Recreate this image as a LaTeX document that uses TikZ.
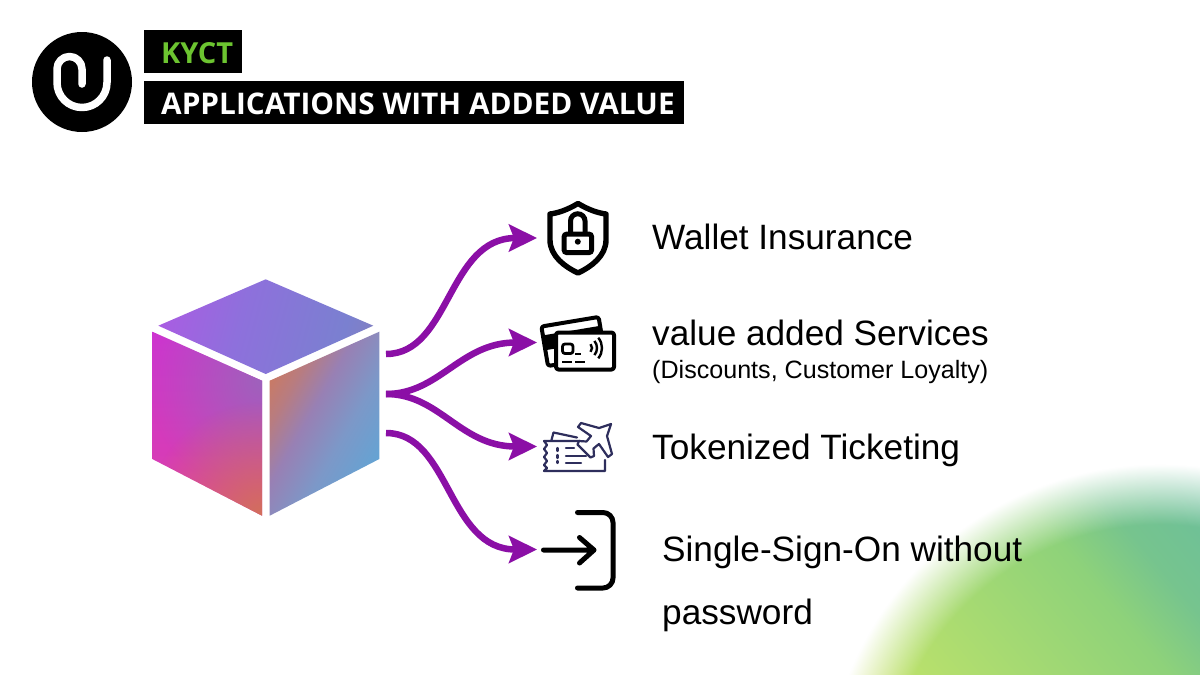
\documentclass[tikz,border=0pt]{standalone}
\usepackage{fontspec}
\setmainfont{Liberation Sans}
\newfontfamily\titlefont{Open Sans}
\usetikzlibrary{arrows.meta,fadings,shadings}
\definecolor{arrowpurple}{HTML}{8B0FA6}
\definecolor{ticketnavy}{HTML}{2E2E5C}
\definecolor{kyctgreen}{HTML}{6CC430}
\definecolor{lpurple}{HTML}{9E62BC}
\definecolor{lorange}{HTML}{D2705A}
\definecolor{r0}{HTML}{A078B8}\definecolor{r1}{HTML}{A878A8}\definecolor{r2}{HTML}{C87A66}
\definecolor{r3}{HTML}{B87C80}\definecolor{r4}{HTML}{9880B4}\definecolor{r5}{HTML}{7C98C8}
\definecolor{r6}{HTML}{5AA8D8}\definecolor{r7}{HTML}{50A8E0}
\pgfdeclarehorizontalshading{cuberightshade}{100bp}{
  color(0bp)=(r0);color(14.3bp)=(r0);color(21bp)=(r1);color(35.4bp)=(r2);color(39.3bp)=(r3);
  color(44.6bp)=(r4);color(51.8bp)=(r5);color(62.5bp)=(r6);color(100bp)=(r7)}
\definecolor{t0}{HTML}{C848E6}\definecolor{ta}{HTML}{B058E4}\definecolor{t1}{HTML}{8E70DC}\definecolor{t2}{HTML}{7A80D0}
\definecolor{t3}{HTML}{8F7FA8}\definecolor{t4}{HTML}{9A7A90}
\pgfdeclarehorizontalshading{cubetopshade}{100bp}{
  color(0bp)=(t0);color(10bp)=(t0);color(26.5bp)=(ta);color(45bp)=(t1);color(65bp)=(t2);
  color(81bp)=(t3);color(90bp)=(t4);color(100bp)=(t4)}
\definecolor{l0}{HTML}{C62EE2}\definecolor{l1}{HTML}{E2459A}
\pgfdeclareverticalshading{cubeleftshade}{100bp}{
  color(0bp)=(l1);color(100bp)=(l0)}
\definecolor{b0}{HTML}{E8E860}\definecolor{b1}{HTML}{D8E064}\definecolor{b2}{HTML}{B8E06C}
\definecolor{b3}{HTML}{8ED27A}\definecolor{b4}{HTML}{76C48E}\definecolor{b5}{HTML}{68BDA0}\definecolor{b6}{HTML}{60B8A8}
\pgfdeclarehorizontalshading{blobshade}{100bp}{
  color(0bp)=(b0);color(9.5bp)=(b0);color(21bp)=(b1);color(33bp)=(b2);color(55bp)=(b3);
  color(62bp)=(b4);color(76bp)=(b5);color(100bp)=(b6)}
\pgfdeclareradialshading{softdotshade}{\pgfpointorigin}{
  color(0bp)=(pgftransparent!0);color(50bp)=(pgftransparent!100)}
\pgfdeclarefading{softdot}{\pgfuseshading{softdotshade}}
\pgfdeclareradialshading{blobmask}{\pgfpointorigin}{
  color(0bp)=(pgftransparent!0);color(36.6bp)=(pgftransparent!0);
  color(44.6bp)=(pgftransparent!100);color(50bp)=(pgftransparent!100)}
\pgfdeclarefading{blobfade}{\pgfuseshading{blobmask}}
\tikzset{
  bodytext/.style={anchor=base west,inner sep=0pt,font=\fontsize{35.2}{38}\selectfont,text=black},
  smalltext/.style={anchor=base west,inner sep=0pt,font=\fontsize{25.1}{28}\selectfont,text=black},
  titlebox/.style={fill=black,inner sep=0pt,anchor=north west,minimum height=42.5pt},
  titletext/.style={anchor=base west,inner sep=0pt,font=\titlefont\bfseries\fontsize{29.8}{32}\selectfont},
  flow/.style={draw=arrowpurple,line width=6.5pt,-{Stealth[length=28pt,width=27pt,inset=5pt]}},
  iconline/.style={draw=black,line width=5pt,line cap=round,line join=round},
  cardline/.style={draw=black,line width=4pt,line join=round,rounded corners=2.5pt,fill=white},
  ticketline/.style={draw=ticketnavy,line width=2.2pt,line cap=round,line join=round},
}
\begin{document}
\begin{tikzpicture}[x=1pt,y=-1pt]
\useasboundingbox (0,0) rectangle (1200,675);
\fill[white] (0,0) rectangle (1200,675);
% corner glow
\begin{scope}
\clip (0,0) rectangle (1200,675);
\shade[shading=blobshade,shading angle=40,path fading=blobfade,fit fading=false,
  fading transform={shift={(1160,800)},scale=7.5}] (1050,600) circle (220);
\end{scope}
% logo
\node[circle,fill=black,minimum size=100pt,inner sep=0pt] (logo) at (82,82) {};
\draw[white,line width=7.5pt,line cap=round,line join=round]
  (107,60) -- (107,82.5) arc[start angle=0,end angle=180,radius=25] -- (57,69)
  arc[start angle=180,end angle=360,radius=12.5] -- (82,84);
% title
\node[titlebox,minimum width=98pt] (kyctbox) at (144,30) {};
\node[titletext,font=\titlefont\bfseries\fontsize{29}{32}\selectfont,text=kyctgreen] (kyct) at (161,63) {KYCT};
\node[titlebox,minimum width=540pt] (titlebg) at (144,81) {};
\node[titletext,text=white] (title) at (161,114) {APPLICATIONS WITH ADDED VALUE};
% cube
\begin{scope}
\clip (265.7,279.3) -- (373.3,325.7) -- (265.7,374) -- (158.3,325.7) -- cycle;
\shade[shading=cubetopshade,shading angle=-15] (265,327) circle (130);
\end{scope}
\begin{scope}
\clip (152.3,331.7) -- (262,380.7) -- (262,515.7) -- (152.3,459) -- cycle;
\shade[shading=cubeleftshade] (120,331) rectangle (280,516);
\fill[lpurple,path fading=softdot,fit fading=false,fading transform={shift={(262,381)},scale=2.3}] (120,300) rectangle (300,530);
\fill[lorange,path fading=softdot,fit fading=false,fading transform={shift={(262,516)},scale=2.3}] (120,300) rectangle (300,530);
\end{scope}
\begin{scope}
\clip (269.7,380.7) -- (379.3,331.7) -- (379.3,459) -- (269.7,515.7) -- cycle;
\shade[shading=cuberightshade,shading angle=-30] (325,448) circle (140);
\end{scope}
% connector ends
\coordinate (s1) at (386,354);
\coordinate (s2) at (386,394);
\coordinate (s4) at (386,433);
\coordinate (e1) at (537,238);
\coordinate (e2) at (537,342.5);
\coordinate (e3) at (537,446.5);
\coordinate (e4) at (537,549.5);
\draw[flow] (s1) to[out=0,in=180,out looseness=0.86,in looseness=1.2] (e1);
\draw[flow] (s2) to[out=0,in=180,out looseness=0.86,in looseness=1.23] (e2);
\draw[flow] (s2) to[out=0,in=180,out looseness=0.86,in looseness=1.23] (e3);
\draw[flow] (s4) to[out=0,in=180,out looseness=0.86,in looseness=1.2] (e4);
% shield icon
\draw[iconline,line width=5.4pt] (578,203.5) .. controls (567,210) and (558,213) .. (550,214)
  -- (550,240) .. controls (550,256) and (565,267) .. (578,273)
  .. controls (591,267) and (606,256) .. (606,240) -- (606,214)
  .. controls (598,213) and (589,210) .. (578,203.5) -- cycle;
\draw[black,line width=5pt,rounded corners=3pt] (564,234) rectangle (591.7,252.7);
\draw[black,line width=5pt] (570.5,233) -- (570.5,221) arc[start angle=180,end angle=360,radius=7.25] -- (585,233);
\fill[black] (577.8,241.7) circle (3);
% cards icon
\begin{scope}[rotate around={9.5:(570,340)}]
\draw[cardline] (544,322) rectangle (602,362);
\fill[black] (544,331) rectangle (602,346);
\end{scope}
\draw[cardline] (556,332.5) rectangle (614,369.5);
\draw[black,line width=2.8pt,rounded corners=2.5pt] (562.5,344) rectangle (573,353.5);
\draw[black,line width=1.8pt] (575,354) -- (581,354);
\draw[black,line width=2.2pt] (562,362) -- (572,362) (575,362) -- (585,362);
\foreach \rr in {6,11,16}{
  \draw[black,line width=2.4pt] (586,348) ++(-40:\rr) arc[start angle=-40,end angle=40,radius=\rr];
}
% ticket icon
\draw[ticketline] (551.5,440) -- (553.5,432.5) -- (577,437.5);
\draw[ticketline] (580,441) -- (544,441) -- (547,445) -- (544,449) -- (547,453) -- (544,457) -- (547,461) -- (544,465) -- (547,468) -- (544,471) -- (605,471) -- (605,460);
\draw[ticketline] (557.5,448) -- (557.5,451) (557.5,455) -- (557.5,458) (557.5,461) -- (557.5,463);
\draw[ticketline] (566,448) -- (574,448) (566,456) -- (586,456) (566,463) -- (581,463);
\draw[ticketline,fill=white] (611,424) -- (599,428) -- (581,423) -- (578,427) -- (591,436) -- (586.5,441.5)
  -- (579,441) -- (577.5,444.5) -- (584,451) -- (590.5,457.5) -- (594,456) -- (593.5,448.5) -- (599,444)
  -- (608,457) -- (612,454) -- (607,436) -- cycle;
% login icon
\draw[iconline] (543.5,550) -- (594,550) (579.5,537.5) -- (594,550) -- (579.5,563);
\draw[iconline] (577.5,512.5) -- (603,512.5) arc[start angle=-90,end angle=0,radius=10] -- (613,578) arc[start angle=0,end angle=90,radius=10] -- (577.5,588);
% labels
\node[bodytext] (wallet) at (652,249) {Wallet Insurance};
\node[bodytext] (services) at (652,345) {value added Services};
\node[smalltext] (discounts) at (652,378) {(Discounts, Customer Loyalty)};
\node[bodytext] (ticketing) at (652,459) {Tokenized Ticketing};
\node[bodytext] (sso) at (662,561) {Single-Sign-On without};
\node[bodytext] (password) at (662,624) {password};
\end{tikzpicture}
\end{document}
